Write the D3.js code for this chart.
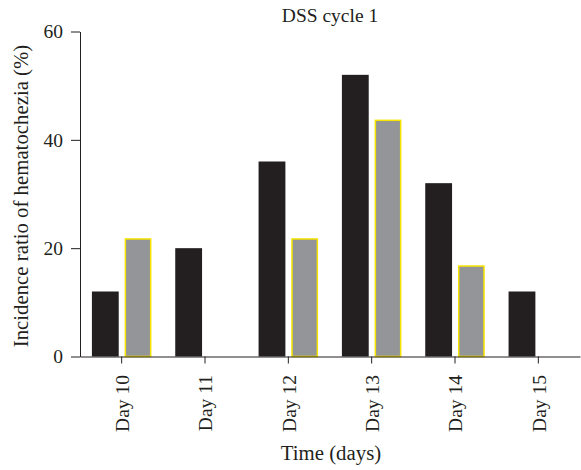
<!DOCTYPE html>
<html>
<head>
<meta charset="utf-8">
<script src="https://cdn.jsdelivr.net/npm/d3@7"></script>
<style>
  body { margin: 0; background: #fff; }
  text { font-family: "Liberation Serif", "DejaVu Serif", serif; fill: #231f20; }
</style>
</head>
<body>
<script>
// data
const days = ["Day 10", "Day 11", "Day 12", "Day 13", "Day 14", "Day 15"];
const blackValues = [12, 20, 36, 52, 32, 12];
const grayValues = [21.7, 0, 21.7, 43.6, 16.7, 0];
const yTicks = [0, 20, 40, 60];

const w = 581;
const h = 470;
const margin = { top: 31.5, right: 1, bottom: 113.5, left: 80 };

const svg = d3.select("body").append("svg").attr("width", w).attr("height", h);

const x = d3.scaleBand()
  .domain(days)
  .range([margin.left, w - margin.right])
  .paddingInner(0)
  .paddingOuter(0);

const sub = d3.scaleBand()
  .domain(["black", "gray"])
  .range([0, x.bandwidth()])
  .paddingInner(0.18)
  .paddingOuter(0.364);

const y = d3.scaleLinear()
  .domain([0, 60])
  .range([h - margin.bottom, margin.top]);

// Bars
const rows = days.map((d, i) => ({ day: d, black: blackValues[i], gray: grayValues[i] }));

svg.append("g")
  .selectAll("rect")
  .data(rows)
  .join("rect")
  .attr("x", d => x(d.day) + sub("black"))
  .attr("y", d => y(d.black))
  .attr("width", sub.bandwidth())
  .attr("height", d => y(0) - y(d.black))
  .attr("fill", "#231f20");

svg.append("g")
  .selectAll("rect")
  .data(rows.filter(d => d.gray > 0))
  .join("rect")
  .attr("x", d => x(d.day) + sub("gray") + 0.75)
  .attr("y", d => y(d.gray))
  .attr("width", sub.bandwidth() - 1.5)
  .attr("height", d => y(0) - y(d.gray))
  .attr("fill", "#939598")
  .attr("stroke", "#f5e400")
  .attr("stroke-width", 1.5);

// Y axis
const yAxis = svg.append("g")
  .attr("transform", `translate(${margin.left},0)`)
  .call(d3.axisLeft(y).tickValues(yTicks).tickSize(9).tickPadding(8).tickSizeOuter(0));
yAxis.select(".domain").attr("stroke", "#231f20");
yAxis.selectAll(".tick line").attr("stroke", "#231f20");
yAxis.selectAll(".tick text")
  .style("font-size", "19.5px")
  .style("font-family", "Liberation Serif, serif")
  .attr("fill", "#231f20");

// X axis
const xAxis = svg.append("g")
  .attr("transform", `translate(0,${y(0)})`)
  .call(d3.axisBottom(x).tickSize(7).tickSizeOuter(0));
xAxis.select(".domain").attr("stroke", "#231f20");
xAxis.selectAll(".tick line").attr("stroke", "#231f20");
xAxis.selectAll(".tick text")
  .style("font-size", "19.5px")
  .style("font-family", "Liberation Serif, serif")
  .attr("fill", "#231f20")
  .attr("text-anchor", "end")
  .attr("x", -18.5)
  .attr("y", 0)
  .attr("dy", "0.38em")
  .attr("transform", "rotate(-90)");

// Title
svg.append("text")
  .attr("x", (margin.left + w - margin.right) / 2)
  .attr("y", 21.5)
  .attr("text-anchor", "middle")
  .style("font-size", "19.5px")
  .text("DSS cycle 1");

// Axis titles
svg.append("text")
  .attr("x", 331)
  .attr("y", 460)
  .attr("text-anchor", "middle")
  .style("font-size", "20.8px")
  .text("Time (days)");

svg.append("text")
  .attr("transform", "translate(28,196) rotate(-90)")
  .attr("text-anchor", "middle")
  .style("font-size", "20.8px")
  .text("Incidence ratio of hematochezia (%)");
</script>
</body>
</html>
